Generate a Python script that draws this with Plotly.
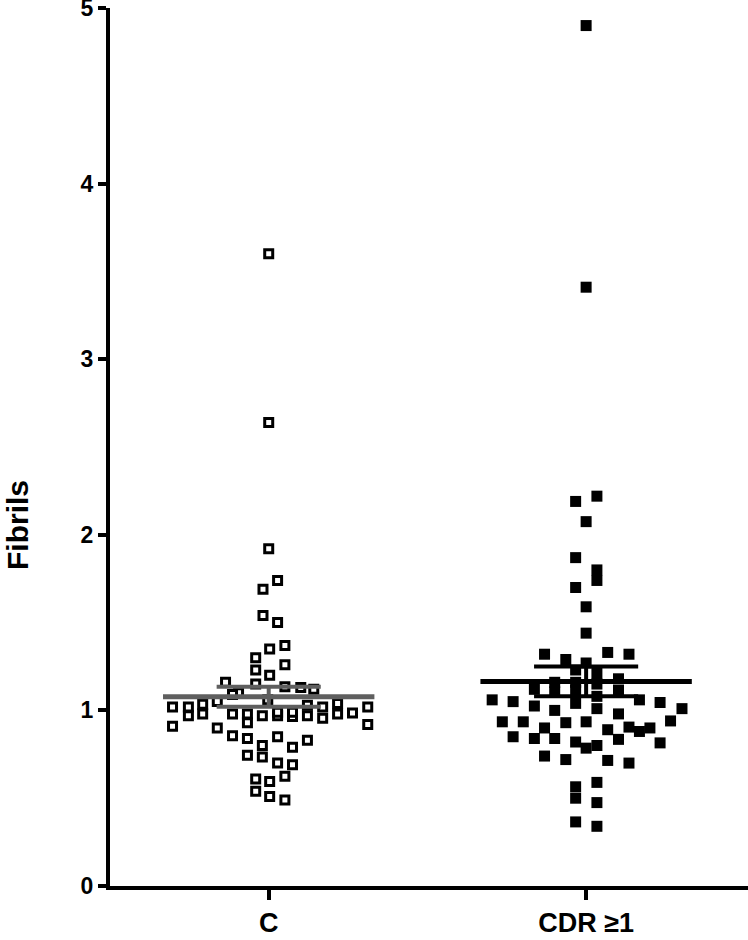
import plotly.graph_objects as go

groups = ["C", "CDR ≥1"]

# control group: horizontal offset from the group centre (category units) and value
c_offset = [0, 0, 0, 0.028, -0.018, -0.018, 0.028, 0.003, 0.051, -0.041,
            -0.041, 0.051, 0.003, -0.136, -0.041, 0.051, 0.101, 0.142, -0.095, -0.114,
            -0.003, -0.162, 0.122, -0.303, -0.253, -0.208, 0.217, 0.312, 0.170, -0.253,
            -0.208, -0.114, -0.067, -0.020, 0.028, 0.028, 0.075, 0.075, 0.122, 0.170,
            0.217, 0.264, -0.303, -0.162, -0.067, 0.312, -0.114, -0.067, 0.028, 0.122,
            -0.020, 0.075, -0.067, -0.020, 0.028, 0.075, 0.051, -0.041, 0.003, -0.041,
            0.003, 0.051]
c_values = [3.60, 2.64, 1.92, 1.74, 1.69, 1.54, 1.50, 1.35, 1.37, 1.30,
            1.23, 1.26, 1.20, 1.16, 1.15, 1.135, 1.13, 1.12, 1.10, 1.09,
            1.06, 1.05, 1.03, 1.02, 1.02, 1.035, 1.04, 1.02, 1.02, 0.97,
            0.98, 0.98, 0.98, 0.97, 0.97, 0.99, 0.965, 0.99, 0.97, 0.955,
            0.98, 0.985, 0.91, 0.90, 0.93, 0.92, 0.855, 0.84, 0.85, 0.83,
            0.80, 0.79, 0.745, 0.735, 0.70, 0.69, 0.625, 0.61, 0.595, 0.54,
            0.51, 0.49]

# CDR >= 1 group
cdr_offset = [0, 0, -0.033, 0.034, 0, -0.033, 0.034, 0.034, -0.033, 0,
              0, -0.131, -0.064, 0, 0.068, 0.135, -0.033, 0.034, -0.099, 0.102,
              -0.163, -0.099, -0.033, 0.034, 0.102, -0.033, 0.034, 0.168, -0.296, -0.230,
              -0.163, -0.099, 0.102, 0.233, 0.302, -0.264, -0.198, -0.064, 0, -0.131,
              0.068, 0.135, 0.168, 0.201, 0.266, -0.230, -0.163, -0.099, -0.033, 0,
              0.034, 0.102, 0.233, -0.131, -0.064, 0.068, 0.135, 0.034, -0.033, -0.033,
              0.034, -0.033, 0.034, -0.033, 0.034]
cdr_values = [4.90, 3.41, 2.19, 2.22, 2.075, 1.87, 1.80, 1.74, 1.70, 1.59,
              1.44, 1.32, 1.29, 1.27, 1.33, 1.32, 1.23, 1.21, 1.16, 1.18,
              1.12, 1.105, 1.115, 1.08, 1.115, 1.04, 1.01, 1.06, 1.06, 1.05,
              1.025, 1.00, 0.98, 1.045, 1.01, 0.935, 0.935, 0.93, 0.935, 0.90,
              0.89, 0.905, 0.88, 0.90, 0.94, 0.85, 0.84, 0.84, 0.82, 0.785,
              0.80, 0.835, 0.815, 0.74, 0.72, 0.715, 0.70, 0.59, 0.565, 0.50,
              0.475, 0.365, 0.34, 1.16, 1.15]

# mean and SEM as drawn
means = [1.078, 1.165]
sems = [0.057, 0.085]
bar_colors = ["#5f5f5f", "#000000"]

fig = go.Figure()

fig.add_trace(go.Scatter(
    x=[0 + d for d in c_offset], y=c_values, mode="markers",
    marker=dict(symbol="square", size=8, color="white",
                line=dict(color="black", width=3)),
    cliponaxis=False, showlegend=False))

fig.add_trace(go.Scatter(
    x=[1 + d for d in cdr_offset], y=cdr_values, mode="markers",
    marker=dict(symbol="square", size=11, color="black", line=dict(width=0)),
    cliponaxis=False, showlegend=False))

for i, (m, s, col) in enumerate(zip(means, sems, bar_colors)):
    # mean line
    fig.add_trace(go.Scatter(x=[i - 0.333, i + 0.333], y=[m, m], mode="lines",
                             line=dict(color=col, width=5), showlegend=False))
    # SEM whisker with caps
    fig.add_trace(go.Scatter(
        x=[i - 0.164, i + 0.164, None, i, i, None, i - 0.164, i + 0.164],
        y=[m + s, m + s, None, m + s, m - s, None, m - s, m - s],
        mode="lines", line=dict(color=col, width=4), showlegend=False))

fig.update_layout(
    width=748, height=940,
    margin=dict(l=110, r=0, t=8, b=54),
    plot_bgcolor="white", paper_bgcolor="white",
    font=dict(family="Liberation Sans, Arial, sans-serif", color="black"),
    xaxis=dict(range=[-0.5, 1.51], tickvals=[0, 1], ticktext=groups,
               showline=True, linecolor="black", linewidth=4,
               ticks="outside", ticklen=10, tickwidth=4, tickcolor="black",
               tickfont=dict(size=27, weight="bold"),
               showgrid=False, zeroline=False, automargin=False),
    yaxis=dict(range=[0, 5], tickvals=[0, 1, 2, 3, 4, 5],
               showline=True, linecolor="black", linewidth=4,
               ticks="outside", ticklen=8, tickwidth=4, tickcolor="black",
               tickfont=dict(size=23, weight="bold"), ticklabeloverflow="allow",
               showgrid=False, zeroline=False, automargin=False),
)

fig.add_annotation(text="Fibrils", xref="paper", yref="paper",
                   x=-0.146, y=0.411, xanchor="center", yanchor="middle",
                   textangle=-90, showarrow=False,
                   font=dict(size=30, weight="bold"))

# drop the default page margin so the figure sits at the window's corner
fig.write_html("out.html", config={"displayModeBar": False},
               post_script="document.body.style.margin='0px';")
